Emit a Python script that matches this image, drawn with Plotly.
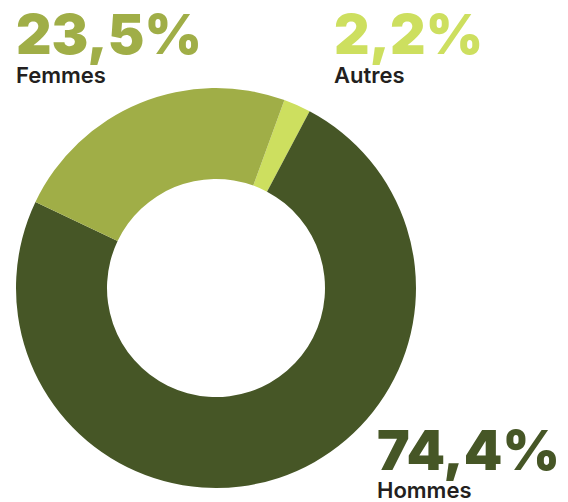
import plotly.graph_objects as go

labels = ["Autres", "Hommes", "Femmes"]
values = [2.2, 74.4, 23.5]
value_text = ["2,2%", "74,4%", "23,5%"]
colors = ["#cddf5f", "#465626", "#a0ae47"]

W, H = 568, 502

fig = go.Figure(go.Pie(
    labels=labels,
    values=values,
    hole=0.545,
    sort=False,
    direction="clockwise",
    rotation=20,
    marker=dict(colors=colors, line=dict(width=0)),
    textinfo="none",
    showlegend=False,
    domain=dict(x=[16 / W, 416 / W], y=[1 - 488 / H, 1 - 88 / H]),
))

# label placement (pixel positions of text blocks)
num_pos = {"Femmes": (14, 34.5), "Autres": (332, 34.5), "Hommes": (375, 450)}
lab_pos = {"Femmes": (14, 75), "Autres": (332, 75), "Hommes": (375, 490)}

annotations = []
for lab, vt, col in zip(labels, value_text, colors):
    nx, ny = num_pos[lab]
    lx, ly = lab_pos[lab]
    annotations.append(dict(
        text=vt, x=nx / W, y=1 - ny / H, xref="paper", yref="paper",
        xanchor="left", yanchor="middle", showarrow=False,
        font=dict(family="Inter", size=55, color=col, weight=900),
    ))
    annotations.append(dict(
        text=lab, x=lx / W, y=1 - ly / H, xref="paper", yref="paper",
        xanchor="left", yanchor="middle", showarrow=False,
        font=dict(family="Inter", size=22, color="#231f20", weight=600),
    ))

fig.update_layout(
    width=W, height=H,
    margin=dict(l=0, r=0, t=0, b=0),
    paper_bgcolor="white",
    plot_bgcolor="white",
    annotations=annotations,
)

fig.write_html(
    "out.html",
    config={"displayModeBar": False},
    post_script="document.body.style.margin='0px';document.body.style.overflow='hidden';",
)
